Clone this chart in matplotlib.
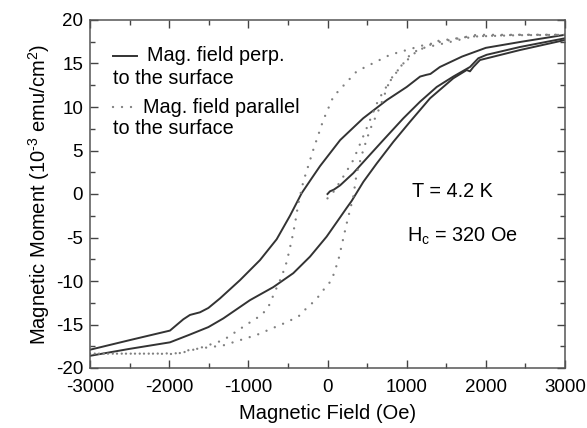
import matplotlib
matplotlib.use("Agg")
import matplotlib.pyplot as plt
from matplotlib.ticker import MultipleLocator

plt.rcParams['font.family'] = ['Liberation Sans', 'DejaVu Sans']
plt.rcParams['mathtext.fontset'] = 'custom'
plt.rcParams['mathtext.rm'] = 'Liberation Sans'
plt.rcParams['mathtext.it'] = 'Liberation Sans'
plt.rcParams['mathtext.default'] = 'regular'
plt.rcParams['axes.unicode_minus'] = False

# ---- perpendicular field (solid) ----
perp_up_x = [3000, 2450, 2000, 1700, 1420, 1300, 1250, 1170, 1000, 750, 450, 160, -95, -200, -326,
             -474, -642, -853, -1105, -1358, -1505, -1611, -1737, -1821, -1990, -2500, -3000]
perp_up_y = [18.3, 17.5, 16.8, 15.8, 14.6, 13.8, 13.7, 13.5, 12.3, 10.8, 8.7, 6.2, 3.2, 1.8, 0.1,
             -2.5, -5.2, -7.6, -9.9, -12.0, -13.1, -13.6, -13.9, -14.4, -15.7, -16.8, -17.9]
perp_dn_x = [-3000, -2500, -1990, -1750, -1505, -1316, -979, -684, -432, -221, -11, 158, 242, 305,
             453, 621, 832, 1042, 1295, 1589, 1758, 1800, 1842, 1926, 2432, 3000]
perp_dn_y = [-18.6, -17.8, -17.05, -16.2, -15.3, -14.3, -12.2, -10.7, -9.1, -7.2, -4.9, -2.7, -1.6, -0.8,
             1.4, 3.5, 6.0, 8.3, 11.0, 13.3, 14.25, 14.1, 14.6, 15.4, 16.55, 17.7]
perp_ini_x = [0, 30, 80, 160, 326, 495, 705, 958, 1168, 1379, 1589, 1800, 1905, 2010, 2432, 3000]
perp_ini_y = [0.0, 0.3, 0.5, 1.0, 2.4, 4.1, 6.2, 8.7, 10.6, 12.3, 13.5, 14.6, 15.6, 16.0, 16.9, 17.9]

# ---- parallel field (dotted) ----
par_up_x = [3000, 2500, 1884, 1211, 790, 369, 74, -53, -179, -306, -369, -410, -452, -515, -579,
            -663, -748, -832, -1021, -1316, -1611, -1863, -2200, -3000]
par_up_y = [18.3, 18.3, 18.3, 17.1, 16.0, 14.1, 11.2, 8.5, 5.1, 1.4, -1.1, -3.4, -5.3, -7.8, -9.5,
            -11.2, -13.0, -13.9, -15.0, -16.8, -17.7, -18.3, -18.35, -18.35]
par_dn_x = [-3000, -2200, -1905, -1737, -1316, -895, -558, -369, -284, -200, -116, -32, 53, 137,
            242, 326, 369, 453, 537, 663, 789, 958, 1042, 1168, 1463, 1842, 2400, 3000]
par_dn_y = [-18.35, -18.35, -18.4, -17.9, -17.4, -16.2, -14.9, -14.1, -13.3, -12.6, -11.8, -10.8, -9.9, -7.6,
            -3.4, -0.3, 2.4, 5.1, 7.4, 10.0, 13.1, 15.0, 16.0, 16.7, 17.3, 18.1, 18.25, 18.3]
par_ini_x = [0, 80, 200, 326, 432, 537, 642, 768, 937, 1126, 1400, 1800, 2400, 3000]
par_ini_y = [-0.5, 0.3, 2.0, 3.9, 6.2, 8.5, 10.8, 12.7, 14.8, 16.4, 17.6, 18.1, 18.3, 18.3]

x_ticks = [-3000, -2000, -1000, 0, 1000, 2000, 3000]
y_ticks = [-20, -15, -10, -5, 0, 5, 10, 15, 20]

fig = plt.figure(figsize=(5.87, 4.28), dpi=100)
ax = fig.add_axes([90/587, 1-368/428, 475/587, 348/428])

solid_kw = dict(color='#333333', lw=1.4, solid_joinstyle='round')
dot_kw = dict(color='#808080', lw=1.7, linestyle=(0, (0.01, 3.8)), dash_capstyle='round')

ax.plot(perp_up_x, perp_up_y, **solid_kw)
ax.plot(perp_dn_x, perp_dn_y, **solid_kw)
ax.plot(perp_ini_x, perp_ini_y, **solid_kw)
ax.plot(par_up_x, par_up_y, **dot_kw)
ax.plot(par_dn_x, par_dn_y, **dot_kw)
ax.plot(par_ini_x, par_ini_y, **dot_kw)

ax.set_xlim(-3000, 3000)
ax.set_ylim(-20, 20)
ax.set_xticks(x_ticks)
ax.set_yticks(y_ticks)
ax.xaxis.set_minor_locator(MultipleLocator(500))
ax.yaxis.set_minor_locator(MultipleLocator(2.5))
ax.tick_params(which='both', direction='in', top=True, right=True, color='#444444',
               labelsize=13.5, width=1)
ax.tick_params(which='major', length=6)
ax.tick_params(axis='x', which='major', pad=8)
ax.tick_params(axis='y', which='major', pad=5)
ax.tick_params(which='minor', length=3.5)
for s in ax.spines.values():
    s.set_color('#555555')
    s.set_linewidth(1.1)

ax.set_xlabel('Magnetic Field (Oe)', fontsize=14.5, labelpad=6)
ax.set_ylabel('Magnetic Moment (10$^{\u2010 3}$ emu/cm$^{2}$)', fontsize=14.5, labelpad=3)

# legend drawn manually
tr = ax.transAxes
def ax_xy(px, py):
    return ((px - 90) / 475, (368 - py) / 348)

x0, y0 = ax_xy(112.7, 55.7); x1, _ = ax_xy(136.7, 55.7)
ax.plot([x0, x1], [y0, y0], transform=tr, **solid_kw)
tx, _ = ax_xy(147, 0)
ax.text(tx, y0, 'Mag. field perp.', transform=tr, fontsize=14.3, va='center', ha='left')
_, y2 = ax_xy(0, 78)
ax.text(x0, y2, 'to the surface', transform=tr, fontsize=14.3, va='center', ha='left')
_, y3 = ax_xy(0, 107.3); x3, _ = ax_xy(138.3, 0)
ax.plot([x0, x3], [y3, y3], transform=tr, **dot_kw)
tx2, _ = ax_xy(143.3, 0)
ax.text(tx2, y3, 'Mag. field parallel', transform=tr, fontsize=14.3, va='center', ha='left')
_, y4 = ax_xy(0, 128.3)
ax.text(x0, y4, 'to the surface', transform=tr, fontsize=14.3, va='center', ha='left')

ax.text(1064, 0.3, 'T = 4.2 K', fontsize=14.3, va='center', ha='left')
ax.text(1010, -4.9, 'H$_{c}$ = 320 Oe', fontsize=14.3, va='center', ha='left')

fig.savefig('out.png', dpi=100)
